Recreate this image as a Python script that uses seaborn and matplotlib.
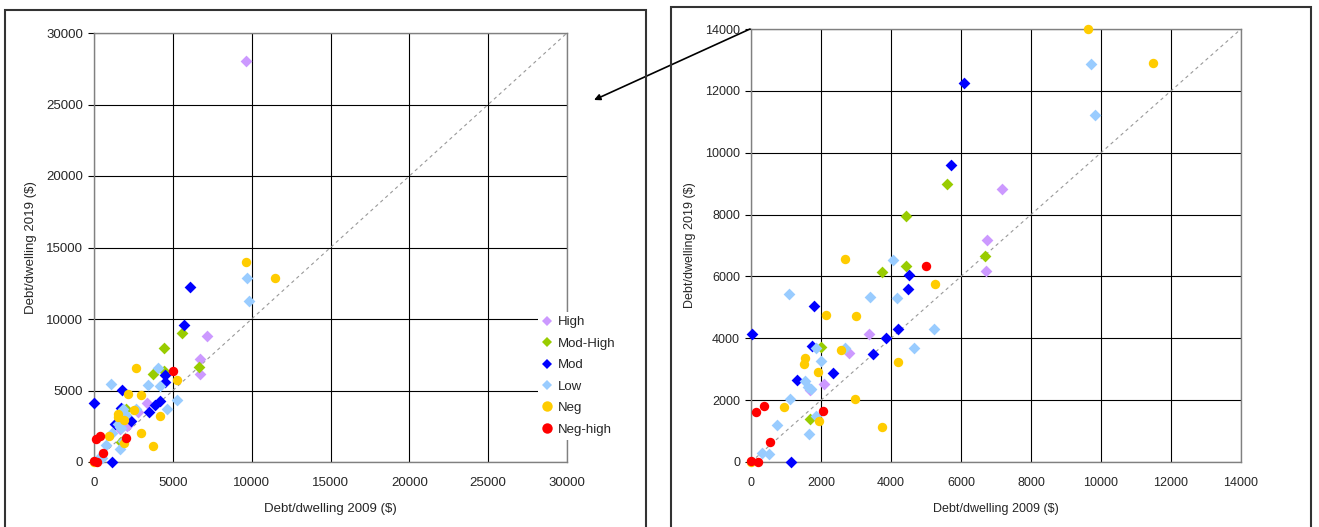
import numpy as np
import pandas as pd
import matplotlib.pyplot as plt
import seaborn as sns
from matplotlib.patches import Rectangle
from matplotlib.lines import Line2D

groups = ["High", "Mod-High", "Mod", "Low", "Neg", "Neg-high"]
colors = ["#CC99FF", "#99CC00", "#0000FF", "#99CCFF", "#FFCC00", "#FF0000"]
markers = ["D", "D", "D", "D", "o", "o"]

# debt per dwelling, 2009 vs 2019
high_2009 = [9640, 7170, 6730, 6710, 3360, 2800, 2080, 1680]
high_2019 = [28050, 8820, 7180, 6180, 4150, 3530, 2510, 2320]

modhigh_2009 = [5600, 4420, 6690, 4420, 3750, 2010, 1690]
modhigh_2019 = [8990, 7960, 6670, 6340, 6150, 3710, 1390]

mod_2009 = [6080, 5710, 4510, 4490, 1800, 20, 4210, 3850, 1730, 3490, 2340, 1310, 1130]
mod_2019 = [12250, 9600, 6060, 5580, 5030, 4150, 4290, 4010, 3750, 3500, 2880, 2650, 0]

low_2009 = [9720, 9820, 4060, 1080, 3400, 4180, 5240, 1870, 2690, 4660,
            2010, 1540, 1640, 1700, 1110, 1870, 750, 1650, 320, 510]
low_2019 = [12880, 11230, 6540, 5440, 5350, 5300, 4310, 3680, 3700, 3680,
            3260, 2630, 2430, 2360, 2030, 1500, 1190, 920, 300, 260]

neg_2009 = [9620, 11480, 2690, 5250, 2140, 2990, 2560, 1540, 1510, 4190,
            1920, 2960, 930, 1930, 3740, 0]
neg_2019 = [14000, 12890, 6550, 5760, 4740, 4710, 3620, 3370, 3180, 3240,
            2910, 2030, 1790, 1340, 1140, 0]

neghigh_2009 = [5010, 360, 150, 2060, 540, 0, 190]
neghigh_2019 = [6350, 1820, 1620, 1650, 660, 40, 10]

series = [(high_2009, high_2019), (modhigh_2009, modhigh_2019), (mod_2009, mod_2019),
          (low_2009, low_2019), (neg_2009, neg_2019), (neghigh_2009, neghigh_2019)]

rows = []
for g, (xs, ys) in zip(groups, series):
    for x, y in zip(xs, ys):
        rows.append({"group": g, "d2009": x, "d2019": y})
df = pd.DataFrame(rows)

sns.set_style("white")
plt.rcParams['font.family'] = ['Liberation Sans', 'DejaVu Sans']

W, H = 1319, 527
fig = plt.figure(figsize=(W / 100, H / 100), dpi=100)
ax1 = fig.add_axes([94 / W, 65 / H, 473 / W, 429 / H])
ax2 = fig.add_axes([751 / W, 65 / H, 490 / W, 433 / H])


def draw(ax, data, lim, step, fs):
    for g, c, m in zip(groups, colors, markers):
        sub = data[data["group"] == g]
        sns.scatterplot(data=sub, x="d2009", y="d2019", color=c, marker=m,
                        s=36 if m == "D" else 46, linewidth=0, ax=ax,
                        legend=False, clip_on=False, zorder=3)
    ax.plot([0, lim], [0, lim], ls=(0, (3, 3)), color="#999999", lw=0.8, zorder=2)
    ax.set_xlim(0, lim)
    ax.set_ylim(0, lim)
    ticks = np.arange(0, lim + 1, step)
    ax.set_xticks(ticks)
    ax.set_yticks(ticks)
    ax.grid(True, color="black", lw=0.8)
    ax.set_axisbelow(True)
    for sp in ax.spines.values():
        sp.set_color("#808080")
        sp.set_linewidth(1)
    ax.tick_params(axis="x", length=0, pad=11, labelsize=fs)
    ax.tick_params(axis="y", left=True, length=4.3, color="black", pad=3.6, labelsize=fs)
    ax.set_xlabel("Debt/dwelling 2009 ($)", fontsize=fs, labelpad=10)
    ax.set_ylabel("Debt/dwelling 2019 ($)", fontsize=fs, labelpad=6.5)


draw(ax1, df, 30000, 5000, 9.5)
zoomed = df[(df["d2009"] <= 14000) & (df["d2019"] <= 14000)]
draw(ax2, zoomed, 14000, 2000, 9)

handles = [Line2D([], [], ls="none", marker=m, color=c, markeredgewidth=0,
                  markersize=5.5 if m == "D" else 7.5)
           for c, m in zip(colors, markers)]
leg = ax1.legend(handles, groups, loc="upper left",
                 bbox_to_anchor=(538 / W, 1 - 312 / H), bbox_transform=fig.transFigure,
                 frameon=True, facecolor="white", edgecolor="none", framealpha=1,
                 fontsize=9.5, labelspacing=0.7, handlelength=0.8, handletextpad=0.4,
                 borderpad=0.3, borderaxespad=0)
leg.set_zorder(5)

# outer frames around the two charts
fig.add_artist(Rectangle((5 / W, -0.05), 641 / W, (H - 10) / H + 0.05,
                         transform=fig.transFigure, fill=False, ec="#333333", lw=1.5))
fig.add_artist(Rectangle((671 / W, -0.05), 640 / W, (H - 7) / H + 0.05,
                         transform=fig.transFigure, fill=False, ec="#333333", lw=1.5))

ax2.annotate("", xy=(594 / W, 1 - 100 / H), xycoords="figure fraction",
             xytext=(750 / W, 1 - 29 / H), textcoords="figure fraction",
             arrowprops=dict(arrowstyle="-|>", color="black", lw=1.2,
                             mutation_scale=9, shrinkA=0, shrinkB=0),
             annotation_clip=False, zorder=10)

fig.savefig("out.png", dpi=100)
